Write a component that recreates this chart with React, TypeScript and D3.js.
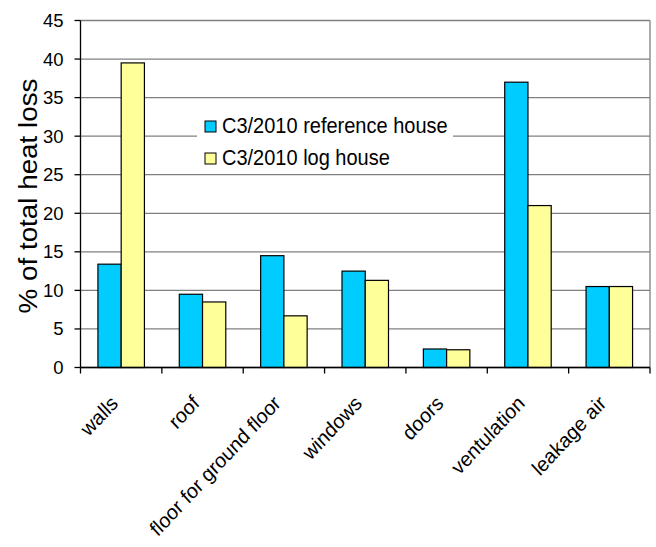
import React from "react";
import * as d3 from "d3";

const categories = [
  "walls",
  "roof",
  "floor for ground floor",
  "windows",
  "doors",
  "ventulation",
  "leakage air",
];
const referenceHouse = [13.4, 9.5, 14.5, 12.5, 2.4, 37, 10.5];
const logHouse = [39.5, 8.5, 6.7, 11.3, 2.3, 21, 10.5];
const seriesNames = ["C3/2010 reference house", "C3/2010 log house"];
const seriesColors = ["#00CCFF", "#FFFF99"];
const yTicks = [0, 5, 10, 15, 20, 25, 30, 35, 40, 45];

const W = 656;
const H = 547;
const plot = { left: 80.5, right: 650, top: 20.5, bottom: 367.5 };
const FONT = "'Liberation Sans', Arial, sans-serif";
// text in this chart is drawn slightly taller than wide
const STRETCH = 1.07;

export default function App() {
  const x = d3
    .scaleBand<string>()
    .domain(categories)
    .range([plot.left, plot.right])
    .paddingInner(0)
    .paddingOuter(0);
  const y = d3.scaleLinear().domain([0, 45]).range([plot.bottom, plot.top]);

  const band = x.bandwidth();
  const barW = band / (2 + 1.5);
  const groupOffset = (band - 2 * barW) / 2;
  const series = [referenceHouse, logHouse];

  return (
    <svg
      width={W}
      height={H}
      style={{ position: "absolute", left: 0, top: 0, background: "#fff" }}
      fontFamily={FONT}
    >
      {/* gridlines */}
      {yTicks.map((t) => (
        <line
          key={"g" + t}
          x1={plot.left}
          x2={plot.right}
          y1={y(t)}
          y2={y(t)}
          stroke="#808080"
          strokeWidth={1.3}
        />
      ))}
      {/* plot area border (right) */}
      <line
        x1={plot.right}
        x2={plot.right}
        y1={plot.top}
        y2={plot.bottom}
        stroke="#808080"
        strokeWidth={1.3}
      />

      {/* bars */}
      {categories.map((c, i) =>
        series.map((s, j) => (
          <rect
            key={c + j}
            x={(x(c) as number) + groupOffset + j * barW}
            y={y(s[i])}
            width={barW}
            height={y(0) - y(s[i])}
            fill={seriesColors[j]}
            stroke="#000"
            strokeWidth={1.2}
          />
        ))
      )}

      {/* legend */}
      <g>
        <rect x={197} y={109} width={256} height={63} fill="#fff" />
        {seriesNames.map((n, j) => (
          <g key={n} transform={`translate(205, ${121 + j * 32})`}>
            <rect
              x={0}
              y={0}
              width={11}
              height={11}
              fill={seriesColors[j]}
              stroke="#000"
              strokeWidth={1}
            />
            <g transform={`translate(17, 12) scale(1, ${STRETCH})`}>
              <text x={0} y={0} fontSize={20} fill="#000">
                {n}
              </text>
            </g>
          </g>
        ))}
      </g>

      {/* y axis */}
      <line
        x1={plot.left}
        x2={plot.left}
        y1={plot.top}
        y2={plot.bottom}
        stroke="#000"
        strokeWidth={1.3}
      />
      {yTicks.map((t) => (
        <g key={"t" + t}>
          <line
            x1={plot.left - 6}
            x2={plot.left}
            y1={y(t)}
            y2={y(t)}
            stroke="#000"
            strokeWidth={1.3}
          />
          <text
            x={plot.left - 17}
            y={y(t) + 6.5}
            textAnchor="end"
            fontSize={18.5}
            fill="#000"
          >
            {t}
          </text>
        </g>
      ))}
      <g
        transform={`translate(37, ${(plot.top + plot.bottom) / 2 + 2}) scale(1, ${STRETCH}) rotate(-90)`}
      >
        <text x={0} y={0} textAnchor="middle" fontSize={26} fill="#000">
          % of total heat loss
        </text>
      </g>

      {/* x axis */}
      <line
        x1={plot.left}
        x2={plot.right}
        y1={plot.bottom}
        y2={plot.bottom}
        stroke="#000"
        strokeWidth={1.3}
      />
      {d3.range(categories.length + 1).map((k) => {
        const xp = plot.left + k * band;
        return (
          <line
            key={"xt" + k}
            x1={xp}
            x2={xp}
            y1={plot.bottom}
            y2={plot.bottom + 6}
            stroke="#000"
            strokeWidth={1.3}
          />
        );
      })}
      {categories.map((c) => {
        const cx = (x(c) as number) + band / 2;
        return (
          <g
            key={"xl" + c}
            transform={`translate(${cx - 2}, ${plot.bottom + 37}) scale(1, ${STRETCH}) rotate(-45)`}
          >
            <text x={0} y={0} textAnchor="end" fontSize={19.5} fill="#000">
              {c}
            </text>
          </g>
        );
      })}
    </svg>
  );
}
